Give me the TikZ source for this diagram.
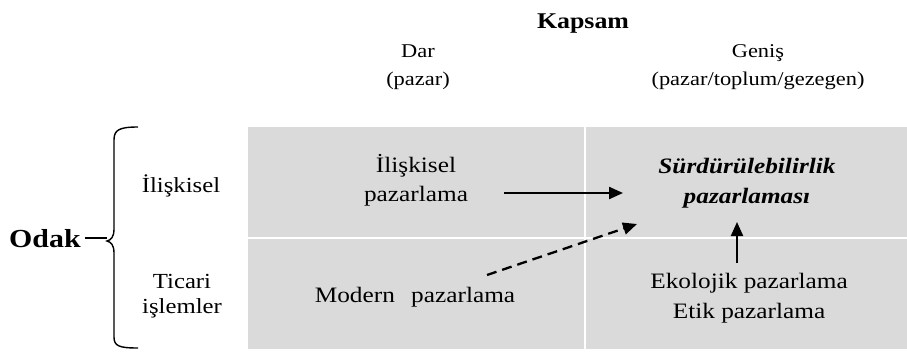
\documentclass[tikz,border=0pt]{standalone}
\usepackage{fontspec}
\setmainfont{Liberation Serif}[FakeStretch=1.15]
\usetikzlibrary{arrows.meta}
\definecolor{cellgray}{RGB}{218,218,218}

\begin{document}
\begin{tikzpicture}[x=1pt,y=-1pt,
    lbl/.style={inner sep=0pt,align=center,font=\fontsize{22}{29}\selectfont},
    hdr/.style={inner sep=0pt,align=center,font=\fontsize{19.5}{28}\selectfont},
    arr/.style={line width=2.3pt,-{Triangle[length=14pt,width=12pt]}}]
  \useasboundingbox (0,0) rectangle (907,351);

  % grid
  \fill[cellgray] (248,127) rectangle (907,349);
  \draw[white,line width=2pt] (585,127) -- (585,349);
  \draw[white,line width=2pt] (248,238) -- (907,238);

  % headers
  \node[anchor=base,inner sep=0pt,font=\fontsize{22.5}{28}\selectfont\bfseries] (kapsam) at (583,28) {Kapsam};
  \node[hdr,anchor=base] (dar) at (418,85) {Dar\\(pazar)};
  \node[hdr,anchor=base] (genis) at (758,85) {Geniş\\(pazar/toplum/gezegen)};

  % left side
  \node[anchor=base west,inner sep=4pt,font=\fontsize{26}{30}\selectfont\bfseries] (odak) at (5,247) {Odak};
  \node[lbl,anchor=base,font=\fontsize{21.5}{25}\selectfont] (iliski) at (181,192) {İlişkisel};
  \node[lbl,anchor=base,font=\fontsize{21.5}{25}\selectfont] (ticari) at (182,313) {Ticari\\işlemler};
  \coordinate (tip) at (107,241);
  \draw[line width=1.4pt] (138,127) .. controls (119,127) and (114,130) .. (114,140)
    -- (114,229) .. controls (114,237) and (111,240) .. (tip)
    .. controls (111,242) and (114,245) .. (114,253)
    -- (114,337) .. controls (114,346) and (119,348) .. (138,348);
  \draw[line width=1.4pt] (odak.east) -- (odak.east -| tip);

  % cells
  \node[lbl,anchor=base] (relpaz) at (416,201) {İlişkisel\\pazarlama};
  \node[lbl,anchor=base,font=\fontsize{22}{30}\selectfont\bfseries\itshape] (surd) at (747,203) {Sürdürülebilirlik\\pazarlaması};
  \node[lbl,anchor=base] (modern) at (415,302) {Modern\hspace{10pt} pazarlama};
  \node[lbl,anchor=base,font=\fontsize{22}{30}\selectfont] (ekoetik) at (749,318) {Ekolojik pazarlama\\Etik pazarlama};

  % arrows
  \coordinate (a1) at (504,193);
  \coordinate (a2) at (623,193);
  \coordinate (b1) at (487,275);
  \coordinate (b2) at (637,224);
  \coordinate (c1) at (737,263);
  \coordinate (c2) at (737,222);
  \draw[arr] (a1) -- (a2);
  \draw[arr,dash pattern=on 10pt off 6pt] (b1) -- (b2);
  \draw[arr,line width=2pt] (c1) -- (c2);
\end{tikzpicture}
\end{document}
